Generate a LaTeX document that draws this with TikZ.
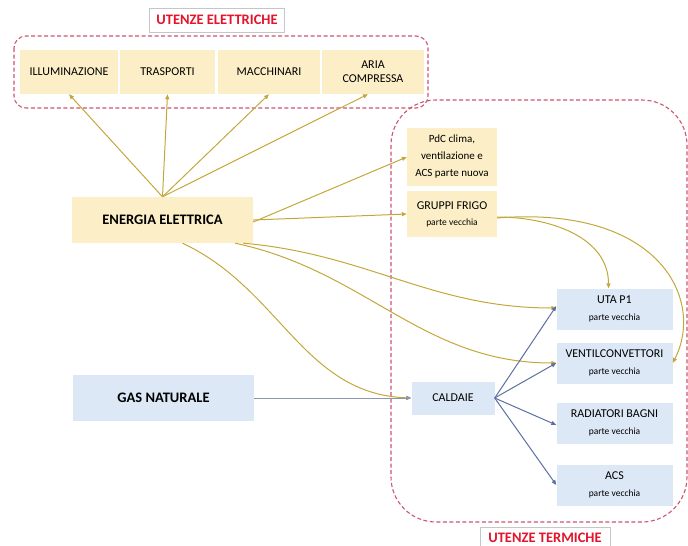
\documentclass[tikz,border=0pt]{standalone}
\usepackage{fontspec}
\setmainfont{Carlito}
\usepackage{tikz}
\usetikzlibrary{arrows.meta}
\usepackage{xcolor}

\definecolor{giallo}{HTML}{FCEFC7}
\definecolor{azzurro}{HTML}{DCE8F5}
\definecolor{lineagialla}{HTML}{C4A73A}
\definecolor{lineablu}{HTML}{5B70A0}
\definecolor{lineagrigia}{HTML}{8A97AE}
\definecolor{tratteggio}{HTML}{CC5570}
\definecolor{rossotitolo}{HTML}{E3142C}

\newcommand{\pv}[1]{{\fontsize{9.5}{11}\selectfont #1}}

\begin{document}
\begin{tikzpicture}[x=1pt,y=-1pt,
    >={Triangle[length=5pt,width=4pt]},
    box/.style={inner sep=0pt, align=center, font=\fontsize{12}{14}\selectfont},
    gbox/.style={box, fill=giallo},
    bbox/.style={box, fill=azzurro},
    bigbox/.style={minimum width=181pt, minimum height=46pt, font=\bfseries\fontsize{14.5}{16}\selectfont},
    termbox/.style={bbox, minimum width=116pt, minimum height=41pt},
    titolo/.style={draw=gray!45, fill=white, text=rossotitolo, inner sep=0pt, font=\bfseries\fontsize{14.5}{16}\selectfont},
    region/.style={draw=tratteggio, line width=1.1pt, dash pattern=on 4pt off 2.5pt},
    yline/.style={draw=lineagialla, line width=1pt, ->},
    bline/.style={draw=lineablu, line width=1pt, ->}]
            \useasboundingbox (0,0) rectangle (688,546);
            \draw[region, rounded corners=12pt] (14,36) rectangle (428,108);
            \draw[region, rounded corners=45pt] (391,100) rectangle (687,522);
            \node[titolo, minimum width=135pt, minimum height=24pt](ttlE) at (217,20){UTENZE ELETTRICHE};
            \node[titolo, minimum width=130pt, minimum height=22pt, anchor=north](ttlT) at (545,527){UTENZE TERMICHE};
            \node[gbox, minimum width=98pt, minimum height=44pt](illum) at (69,72){ILLUMINAZIONE};
            \node[gbox, minimum width=95pt, minimum height=44pt](trasp) at (167.5,72){TRASPORTI};
            \node[gbox, minimum width=102pt, minimum height=44pt](macch) at (269,72){MACCHINARI};
            \node[gbox, minimum width=102pt, minimum height=44pt](aria) at (373,72){ARIA\\COMPRESSA};
            \node[gbox, bigbox](energia) at (162.5,220){ENERGIA ELETTRICA};
            \node[bbox, bigbox](gas) at (163.5,398){GAS NATURALE};
            \node[gbox, minimum width=90pt, minimum height=58pt, font=\fontsize{11}{17}\selectfont](pdc) at (452,157){PdC clima,\\ventilazione e\\ACS parte nuova};
            \node[gbox, minimum width=90pt, minimum height=46pt](frigo) at (452,214){GRUPPI FRIGO\\[2pt]\pv{parte vecchia}};
            \node[bbox, minimum width=83pt, minimum height=33pt](caldaie) at (453,398){CALDAIE};
            \node[termbox](uta) at (614.5,309){UTA P1\\[3pt]\pv{parte vecchia}};
            \node[termbox](ventil) at (614.5,363){VENTILCONVETTORI\\[3pt]\pv{parte vecchia}};
            \node[termbox](radiat) at (614.5,423){RADIATORI BAGNI\\[3pt]\pv{parte vecchia}};
            \node[termbox](acs) at (614.5,485){ACS\\[3pt]\pv{parte vecchia}};
            \path (energia.north) edge[yline] (illum.south);
            \path (energia.north) edge[yline] (trasp.south);
            \path (energia.north) edge[yline] (macch.south);
            \path (energia.north) edge[yline] ([xshift=-5pt]aria.south);
            \path ([yshift=-2pt]energia.east) edge[yline] (pdc.west);
            \path (energia.east) edge[yline] (frigo.west);
            \draw[yline] ([xshift=-10pt]energia.south east) to[out=-5, in=180] ([yshift=1pt]uta.west);
            \draw[yline] ([xshift=-18pt]energia.south east) to[out=-12, in=180] (ventil.west);
            \draw[yline] ([xshift=20pt]energia.south) to[out=-25, in=178] (caldaie.west);
            \draw[yline] ([yshift=-3pt]frigo.east) to[out=0, in=90] ([xshift=-6pt]uta.north);
            \draw[yline] ([yshift=-4pt]frigo.east) .. controls (660,205) and (705,300) .. (ventil.east);
            \path (gas.east) edge[draw=lineagrigia, line width=1pt, ->] (caldaie.west);
            \path (caldaie.east) edge[bline] ([yshift=3pt]uta.west);
            \path (caldaie.east) edge[bline] (ventil.west);
            \path (caldaie.east) edge[bline] ([yshift=-2pt]radiat.west);
            \path (caldaie.east) edge[bline] (acs.west);
\end{tikzpicture}
\end{document}
